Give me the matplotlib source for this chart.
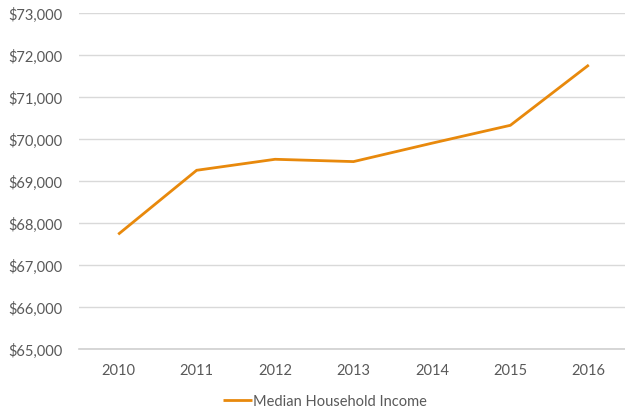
import matplotlib
matplotlib.use("Agg")
import matplotlib.pyplot as plt
from matplotlib.ticker import FuncFormatter

years = ["2010", "2011", "2012", "2013", "2014", "2015", "2016"]
income = [67730, 69255, 69517, 69462, 69900, 70326, 71762]
series_name = "Median Household Income"
y_ticks = [65000, 66000, 67000, 68000, 69000, 70000, 71000, 72000, 73000]

plt.rcParams['font.family'] = ['Lato', 'DejaVu Sans']
text_color = '#595959'

fig = plt.figure(figsize=(6.25, 4.14), dpi=100)
ax = fig.add_axes([79/625, (414-350)/414, (628-79)/625, (350-14)/414])

x = list(range(len(years)))
ax.plot(x, income, color='#E8890C', linewidth=2.0, solid_capstyle='butt',
        solid_joinstyle='miter', label=series_name)

ax.set_xlim(-0.5, len(years) - 0.5)
ax.set_ylim(y_ticks[0], y_ticks[-1])
ax.set_yticks(y_ticks)
ax.yaxis.set_major_formatter(FuncFormatter(lambda v, p: f"${v:,.0f}"))
ax.set_xticks(x)
ax.set_xticklabels(years)

ax.grid(axis='y', color='#d9d9d9', linewidth=1.0)
ax.set_axisbelow(True)
for s in ['top', 'right', 'left']:
    ax.spines[s].set_visible(False)
ax.spines['bottom'].set_color('#d0d0d0')
ax.spines['bottom'].set_linewidth(1.2)
ax.tick_params(axis='both', length=0, labelsize=10.5, colors=text_color)
ax.tick_params(axis='y', pad=12)
ax.tick_params(axis='x', pad=10)

leg = fig.legend(loc='center', bbox_to_anchor=(325/625, 1 - 402/414), frameon=False,
                 fontsize=10.5, handlelength=2.0, handletextpad=0.1)
for t in leg.get_texts():
    t.set_color(text_color)

fig.savefig("out.png", dpi=100)
